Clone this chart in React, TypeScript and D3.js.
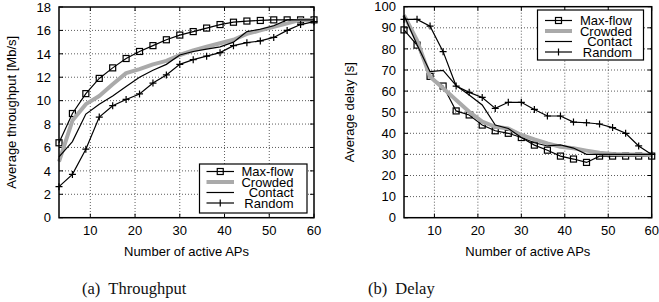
import React, { useEffect, useRef } from "react";
import * as d3 from "d3";

// number of active APs (x values shared by every series)
const activeAPs = [3, 6, 9, 12, 15, 18, 21, 24, 27, 30, 33, 36, 39, 42, 45, 48, 51, 54, 57, 60];

// (a) throughput [Mb/s]
const thrMaxflow = [6.4, 8.9, 10.6, 11.9, 12.8, 13.6, 14.2, 14.7, 15.2, 15.6, 15.9, 16.2, 16.5, 16.7, 16.8, 16.85, 16.9, 16.9, 16.9, 16.9];
const thrCrowded = [4.8, 8.3, 9.7, 10.4, 11.4, 12.35, 12.7, 13.1, 13.4, 13.9, 14.3, 14.6, 14.9, 15.2, 15.7, 16.0, 16.3, 16.6, 16.9, 16.9];
const thrContact = [5.2, 6.5, 8.85, 9.7, 10.4, 11.2, 12.0, 12.6, 13.1, 13.9, 14.2, 14.4, 14.6, 15.0, 15.9, 16.1, 16.4, 16.9, 16.9, 16.9];
const thrRandom = [2.65, 3.7, 5.85, 8.6, 9.57, 10.1, 10.57, 11.5, 12.2, 13.1, 13.5, 13.8, 14.1, 14.7, 14.95, 15.1, 15.4, 16.0, 16.5, 16.75];

// (b) delay [s]
const delMaxflow = [89, 81.8, 67, 62.4, 50.6, 48.7, 43.9, 41.2, 40, 38, 34.4, 32, 29.2, 27.8, 26.2, 29.2, 29.2, 29.2, 29.2, 29.2];
const delCrowded = [96, 84, 66.8, 61.3, 55.8, 50.2, 45.5, 43.1, 42.3, 39.2, 37.1, 35.2, 33.6, 32.9, 31.8, 30.8, 30.2, 30, 30, 29.7];
const delContact = [96, 82, 69.2, 69.8, 62.6, 58.1, 53.4, 43.9, 42.3, 38, 35.5, 34, 34.5, 33, 30, 30, 30, 30, 30, 30];
const delRandom = [94, 94, 90.8, 78.7, 62.4, 59.4, 57, 51.8, 54.7, 54.7, 51.3, 48.2, 48.2, 45.3, 45, 44.4, 42.7, 40, 34, 30];

const seriesNames = ["Max-flow", "Crowded", "Contact", "Random"];
const xTicks = [10, 20, 30, 40, 50, 60];
const thrTicks = [0, 2, 4, 6, 8, 10, 12, 14, 16, 18];
const delTicks = [0, 10, 20, 30, 40, 50, 60, 70, 80, 90, 100];

const SANS = "'Liberation Sans', Arial, Helvetica, sans-serif";
const SERIF = "'Liberation Serif', 'Times New Roman', serif";

type Panel = {
  box: { x0: number; x1: number; y0: number; y1: number };
  yMax: number;
  yTicks: number[];
  yLabel: string;
  yLabelX: number;
  series: number[][];
  legend: { x0: number; x1: number; y0: number; y1: number; sx0: number; sx1: number; tx: number; rows: number[] };
  caption: string;
  captionX: number;
};

const panels: Panel[] = [
  {
    box: { x0: 59, x1: 314, y0: 7, y1: 217.7 },
    yMax: 18,
    yTicks: thrTicks,
    yLabel: "Average throughput [Mb/s]",
    yLabelX: 16,
    series: [thrMaxflow, thrCrowded, thrContact, thrRandom],
    legend: { x0: 199.5, x1: 307, y0: 164, y1: 213, sx0: 206.5, sx1: 234, tx: 293.5, rows: [171.5, 182, 192.5, 203] },
    caption: "Throughput",
    captionX: 82,
  },
  {
    box: { x0: 404, x1: 651.7, y0: 6.7, y1: 217.7 },
    yMax: 100,
    yTicks: delTicks,
    yLabel: "Average delay [s]",
    yLabelX: 354,
    series: [delMaxflow, delCrowded, delContact, delRandom],
    legend: { x0: 537.5, x1: 643.5, y0: 10, y1: 60, sx0: 545, sx1: 572, tx: 632, rows: [20.5, 31, 41.5, 52] },
    caption: "Delay",
    captionX: 368,
  },
];

const App: React.FC = () => {
  const svgRef = useRef<SVGSVGElement | null>(null);

  useEffect(() => {
    if (!svgRef.current) return;
    const svg = d3.select(svgRef.current);
    svg.selectAll("*").remove();

    panels.forEach((p, pi) => {
      const { x0, x1, y0, y1 } = p.box;
      const x = d3.scaleLinear().domain([3, 60]).range([x0, x1]);
      const y = d3.scaleLinear().domain([0, p.yMax]).range([y1, y0]);
      const g = svg.append("g");

      // grid (dotted)
      g.selectAll("line.gx")
        .data(xTicks.filter((t) => t < 60))
        .enter()
        .append("line")
        .attr("x1", (d) => x(d))
        .attr("x2", (d) => x(d))
        .attr("y1", y0)
        .attr("y2", y1)
        .attr("stroke", "#333")
        .attr("stroke-width", 0.8)
        .attr("stroke-dasharray", "1 2");
      g.selectAll("line.gy")
        .data(p.yTicks.filter((t) => t > 0 && t < p.yMax))
        .enter()
        .append("line")
        .attr("x1", x0)
        .attr("x2", x1)
        .attr("y1", (d) => y(d))
        .attr("y2", (d) => y(d))
        .attr("stroke", "#333")
        .attr("stroke-width", 0.8)
        .attr("stroke-dasharray", "1 2");

      // inward ticks on all sides
      const tl = 4;
      xTicks.forEach((t) => {
        g.append("line").attr("x1", x(t)).attr("x2", x(t)).attr("y1", y1).attr("y2", y1 - tl).attr("stroke", "#000");
        g.append("line").attr("x1", x(t)).attr("x2", x(t)).attr("y1", y0).attr("y2", y0 + tl).attr("stroke", "#000");
      });
      p.yTicks.forEach((t) => {
        g.append("line").attr("x1", x0).attr("x2", x0 + tl).attr("y1", y(t)).attr("y2", y(t)).attr("stroke", "#000");
        g.append("line").attr("x1", x1).attr("x2", x1 - tl).attr("y1", y(t)).attr("y2", y(t)).attr("stroke", "#000");
      });

      // tick labels
      g.selectAll("text.xt")
        .data(xTicks)
        .enter()
        .append("text")
        .attr("x", (d) => x(d))
        .attr("y", 235)
        .attr("text-anchor", "middle")
        .attr("font-family", SANS)
        .attr("font-size", 13)
        .text((d) => d);
      g.selectAll("text.yt")
        .data(p.yTicks)
        .enter()
        .append("text")
        .attr("x", x0 - 8)
        .attr("y", (d) => y(d))
        .attr("dy", "0.36em")
        .attr("text-anchor", "end")
        .attr("font-family", SANS)
        .attr("font-size", 13)
        .text((d) => d);

      // axis labels
      g.append("text")
        .attr("x", (x0 + x1) / 2)
        .attr("y", 256)
        .attr("text-anchor", "middle")
        .attr("font-family", SANS)
        .attr("font-size", 13)
        .text("Number of active APs");
      g.append("text")
        .attr("transform", `translate(${p.yLabelX},${(y0 + y1) / 2}) rotate(-90)`)
        .attr("text-anchor", "middle")
        .attr("font-family", SANS)
        .attr("font-size", 13)
        .text(p.yLabel);

      // series
      const line = (vals: number[]) =>
        d3.line<number>().x((_, i) => x(activeAPs[i])).y((d) => y(d))(vals) ?? "";
      const [mf, cr, ct, rn] = p.series;

      g.append("path").attr("d", line(mf)).attr("fill", "none").attr("stroke", "#000").attr("stroke-width", 1.2);
      g.selectAll("rect.mf")
        .data(mf)
        .enter()
        .append("rect")
        .attr("x", (d, i) => x(activeAPs[i]) - 3)
        .attr("y", (d) => y(d) - 3)
        .attr("width", 6)
        .attr("height", 6)
        .attr("fill", "none")
        .attr("stroke", "#000")
        .attr("stroke-width", 1.2);

      g.append("path").attr("d", line(cr)).attr("fill", "none").attr("stroke", "#aaa").attr("stroke-width", 4).attr("stroke-linejoin", "round");
      g.append("path").attr("d", line(ct)).attr("fill", "none").attr("stroke", "#000").attr("stroke-width", 1.2);

      g.append("path").attr("d", line(rn)).attr("fill", "none").attr("stroke", "#000").attr("stroke-width", 1.2);
      rn.forEach((d, i) => {
        const cx = x(activeAPs[i]);
        const cy = y(d);
        g.append("path")
          .attr("d", `M${cx - 3.5},${cy}H${cx + 3.5}M${cx},${cy - 3.5}V${cy + 3.5}`)
          .attr("stroke", "#000")
          .attr("stroke-width", 1.2);
      });

      // border
      g.append("rect")
        .attr("x", x0)
        .attr("y", y0)
        .attr("width", x1 - x0)
        .attr("height", y1 - y0)
        .attr("fill", "none")
        .attr("stroke", "#000")
        .attr("stroke-width", 1.5);

      // legend
      const L = p.legend;
      g.append("rect")
        .attr("x", L.x0)
        .attr("y", L.y0)
        .attr("width", L.x1 - L.x0)
        .attr("height", L.y1 - L.y0)
        .attr("fill", "#fff")
        .attr("stroke", "#000")
        .attr("stroke-width", 1.2);
      seriesNames.forEach((name, i) => {
        const ry = L.rows[i];
        const mid = (L.sx0 + L.sx1) / 2;
        g.append("line")
          .attr("x1", L.sx0)
          .attr("x2", L.sx1)
          .attr("y1", ry)
          .attr("y2", ry)
          .attr("stroke", i === 1 ? "#aaa" : "#000")
          .attr("stroke-width", i === 1 ? 4 : 1.2);
        if (i === 0) {
          g.append("rect").attr("x", mid - 3).attr("y", ry - 3).attr("width", 6).attr("height", 6).attr("fill", "none").attr("stroke", "#000").attr("stroke-width", 1.2);
        }
        if (i === 3) {
          g.append("line").attr("x1", mid).attr("x2", mid).attr("y1", ry - 3.5).attr("y2", ry + 3.5).attr("stroke", "#000").attr("stroke-width", 1.2);
        }
        g.append("text")
          .attr("x", L.tx)
          .attr("y", ry)
          .attr("dy", "0.36em")
          .attr("text-anchor", "end")
          .attr("font-family", SANS)
          .attr("font-size", 13)
          .text(name);
      });

      // caption
      const cap = svg.append("text")
        .attr("x", p.captionX)
        .attr("y", 294)
        .attr("font-family", SERIF)
        .attr("font-size", 16.5)
        .attr("fill", "#111");
      cap.append("tspan").text(pi === 0 ? "(a)" : "(b)");
      cap.append("tspan").attr("dx", 8).text(p.caption);
    });
  }, []);

  return (
    <div style={{ position: "absolute", left: 0, top: 0 }}>
      <svg ref={svgRef} width={659} height={302} style={{ display: "block", background: "#fff" }}></svg>
    </div>
  );
};

export default App;
